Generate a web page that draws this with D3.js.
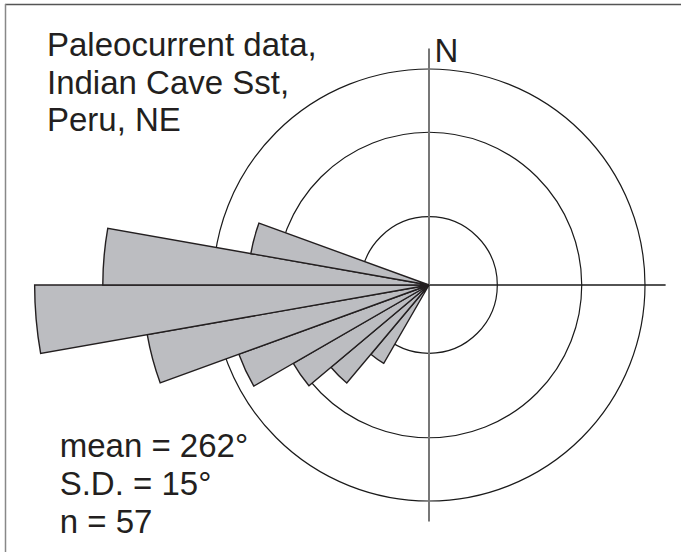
<!DOCTYPE html>
<html>
<head>
<meta charset="utf-8">
<script src="https://cdn.jsdelivr.net/npm/d3@7"></script>
<style>
  body { margin: 0; background: #fff; }
  text { font-family: "Liberation Sans", Arial, sans-serif; fill: #231f20; }
</style>
</head>
<body>
<div id="rose-chart"></div>
<script>
// data: paleocurrent counts per 10 degree bin
var binStarts = [210, 220, 230, 240, 250, 260, 270, 280];
var binCounts = [1, 2, 3, 5, 10, 19, 13, 4];
var binWidth = 10;
var nTotal = 57;

var ringValues = [1, 5, 10]; // percent rings
var axisExtent = 12;         // percent, length of the cross axes

var titleLines = ["Paleocurrent data,", "Indian Cave Sst,", "Peru, NE"];
var statLines = ["mean = 262\u00b0", "S.D. = 15\u00b0", "n = 57"];

// setting up SVG drawing area
var width = 681;
var height = 552;
var cx = 429, cy = 285;

var svg = d3
  .select("#rose-chart")
  .append("svg")
  .attr("width", width)
  .attr("height", height);

// frame (top and left edges only)
svg.append("line")
  .attr("x1", 5).attr("x2", width).attr("y1", 4.5).attr("y2", 4.5)
  .attr("stroke", "#555").attr("stroke-width", 1.5);
svg.append("line")
  .attr("x1", 5.5).attr("x2", 5.5).attr("y1", 4).attr("y2", height)
  .attr("stroke", "#888").attr("stroke-width", 1.5);

var g = svg.append("g").attr("transform", `translate(${cx}, ${cy})`);

// equal-area radius scale (percent -> px)
var r = d3.scaleSqrt().domain([0, 10]).range([0, 216]);

// rings
g.selectAll(".ring")
  .data(ringValues)
  .join("circle")
  .attr("class", "ring")
  .attr("r", (d) => r(d))
  .attr("fill", "none")
  .attr("stroke", "#1a1a1a")
  .attr("stroke-width", 1.2);

// axes
var L = r(axisExtent);
g.append("line")
  .attr("x1", -L).attr("x2", L).attr("y1", 0).attr("y2", 0)
  .attr("stroke", "#1a1a1a").attr("stroke-width", 1.5);
g.append("line")
  .attr("x1", 0).attr("x2", 0).attr("y1", -L).attr("y2", L)
  .attr("stroke", "#777").attr("stroke-width", 2);

// petals
var petals = binStarts.map((s, i) => ({
  start: s,
  pct: (binCounts[i] / nTotal) * 100
}));

var arc = d3.arc()
  .innerRadius(0)
  .outerRadius((d) => r(d.pct))
  .startAngle((d) => (d.start * Math.PI) / 180)
  .endAngle((d) => ((d.start + binWidth) * Math.PI) / 180);

g.selectAll(".petal")
  .data(petals)
  .join("path")
  .attr("class", "petal")
  .attr("d", arc)
  .attr("fill", "#bcbdc1")
  .attr("stroke", "#231f20")
  .attr("stroke-width", 1.4)
  .attr("stroke-linejoin", "miter");

// north label
svg.append("text")
  .attr("x", 434.5)
  .attr("y", 61.7)
  .attr("font-size", 33)
  .text("N");

// title and stats
function textBlock(lines, x, y0, dy) {
  lines.forEach((t, i) => {
    svg.append("text")
      .attr("x", x)
      .attr("y", y0 + i * dy)
      .attr("font-size", 33)
      .text(t);
  });
}
textBlock(titleLines, 47, 56, 37.5);
textBlock(statLines, 59.7, 457, 38);
</script>
</body>
</html>
